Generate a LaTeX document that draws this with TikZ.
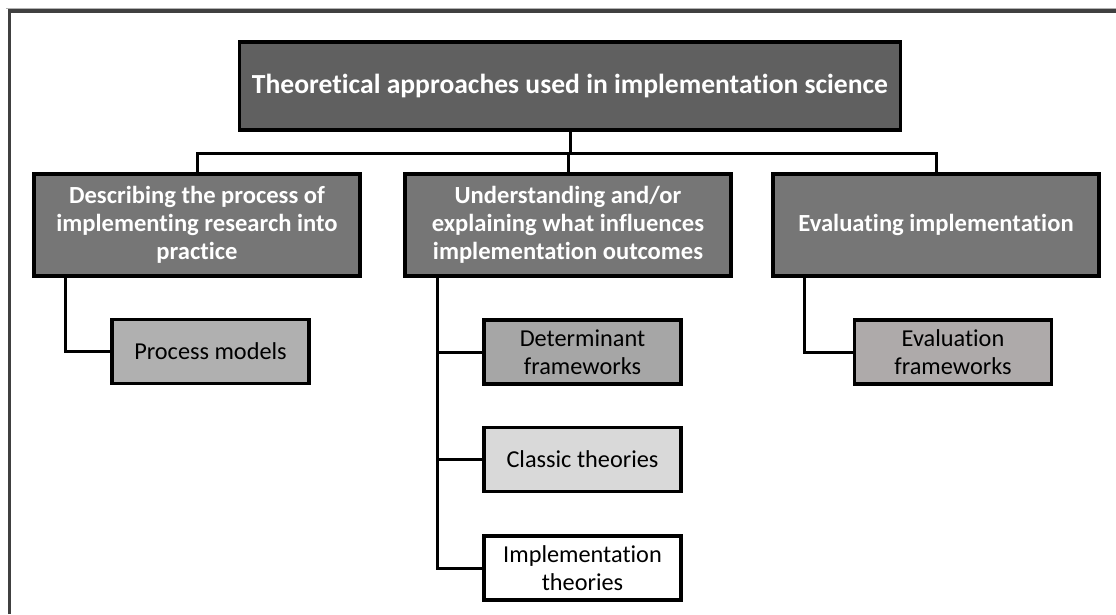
\documentclass[tikz,border=0pt]{standalone}
\usepackage{fontspec}
\setmainfont{Carlito}[Ligatures=NoCommon]
\usetikzlibrary{calc}
\definecolor{framegray}{HTML}{404040}
\definecolor{topfill}{HTML}{606060}
\definecolor{midfill}{HTML}{767676}
\definecolor{pmfill}{HTML}{B0B0B0}
\definecolor{dffill}{HTML}{A6A6A6}
\definecolor{ctfill}{HTML}{D9D9D9}
\definecolor{effill}{HTML}{AEAAAA}
\tikzset{
  box/.style={draw=black, line width=3.5pt, inner sep=2pt, align=center},
  topbox/.style={box, fill=topfill, text=white, font=\bfseries\fontsize{27.6}{32}\selectfont,
    minimum width=661pt, minimum height=88pt},
  midbox/.style={box, fill=midfill, text=white, font=\bfseries\fontsize{24.6}{28}\selectfont,
    minimum width=326pt, minimum height=102pt},
  leafbox/.style={box, text=black, font=\fontsize{24.3}{28}\selectfont,
    minimum width=197pt, minimum height=64pt},
  conn/.style={draw=black, line width=3pt},
}
\begin{document}
\begin{tikzpicture}[x=1pt,y=-1pt]
\useasboundingbox (0,0) rectangle (1116,614);
\fill[white] (0,0) rectangle (1116,614);
% outer frame (only top and left edges visible)
\draw[framegray!40, line width=1pt] (6,8.5) -- (1116,8.5);
\draw[framegray, line width=3.5pt] (9.5,614) -- (9.5,11) -- (1116,11);

\node[topbox] (top) at (570,86) {Theoretical approaches used in implementation science};
\node[midbox] (b1) at (197,225) {Describing the process of\\implementing research into\\practice};
\node[midbox] (b2) at (568,225) {Understanding and/or\\explaining what influences\\implementation outcomes};
\node[midbox] (b3) at (936,225) {Evaluating implementation};

\node[leafbox, fill=pmfill] (pm) at (210.5,351.5) {Process models};
\node[leafbox, fill=dffill] (df) at (582.5,352) {Determinant\\frameworks};
\node[leafbox, fill=ctfill] (ct) at (582.5,459.5) {Classic theories};
\node[leafbox, fill=white] (it) at (582.5,568) {Implementation\\theories};
\node[leafbox, fill=effill] (ef) at (953,352) {Evaluation\\frameworks};

% top-level connectors
\coordinate (bar) at (570,153);
\draw[conn] (top.south) -- (bar);
\draw[conn] (b1.north) |- (bar) -| (b3.north);
\draw[conn] (bar) -| (b2.north);

% child connectors
\coordinate (s1) at ($(b1.south west)+(33,0)$);
\coordinate (s2) at ($(b2.south west)+(34,0)$);
\coordinate (s3) at ($(b3.south west)+(33,0)$);
\draw[conn] (s1) |- (pm.west);
\draw[conn] (s2) |- (it.west);
\draw[conn] (s2 |- df.west) -- (df.west);
\draw[conn] (s2 |- ct.west) -- (ct.west);
\draw[conn] (s3) |- (ef.west);
\end{tikzpicture}
\end{document}
